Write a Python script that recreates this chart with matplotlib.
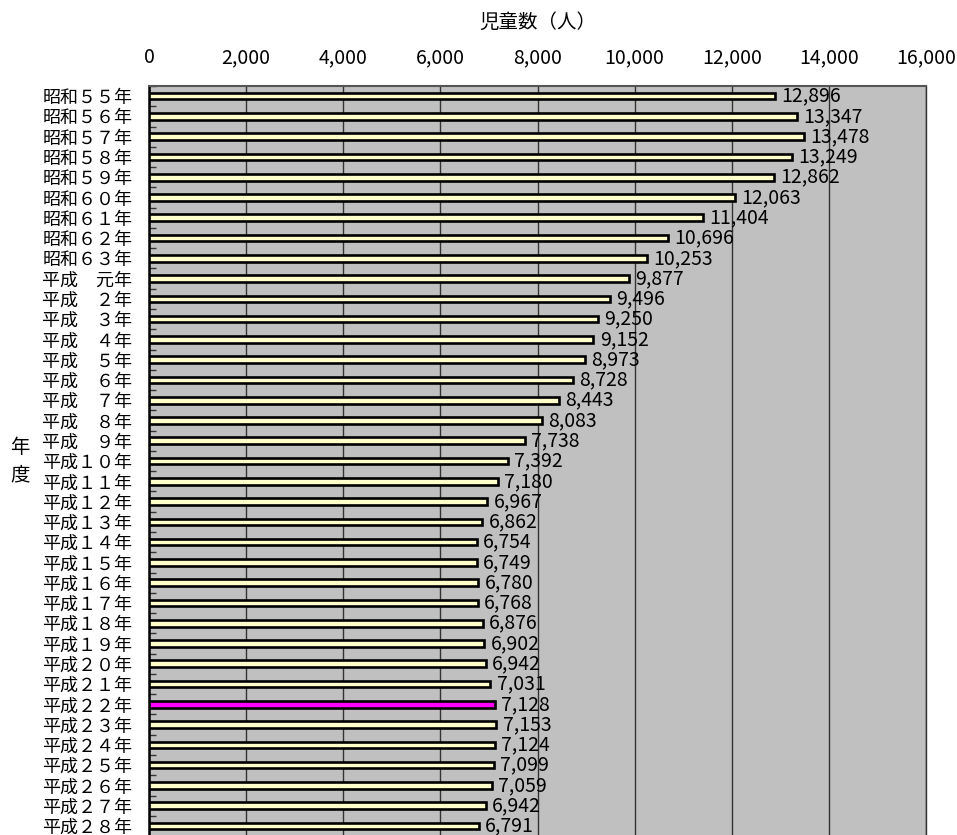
import matplotlib.pyplot as plt
import numpy as np

plt.rcParams['font.family'] = ['Noto Sans CJK JP', 'DejaVu Sans']

# 年度ごとの児童数
years = ['昭和５５年', '昭和５６年', '昭和５７年', '昭和５８年', '昭和５９年',
         '昭和６０年', '昭和６１年', '昭和６２年', '昭和６３年',
         '平成　元年', '平成　２年', '平成　３年', '平成　４年', '平成　５年',
         '平成　６年', '平成　７年', '平成　８年', '平成　９年', '平成１０年',
         '平成１１年', '平成１２年', '平成１３年', '平成１４年', '平成１５年',
         '平成１６年', '平成１７年', '平成１８年', '平成１９年', '平成２０年',
         '平成２１年', '平成２２年', '平成２３年', '平成２４年', '平成２５年',
         '平成２６年', '平成２７年', '平成２８年']
children = [12896, 13347, 13478, 13249, 12862, 12063, 11404, 10696, 10253,
            9877, 9496, 9250, 9152, 8973, 8728, 8443, 8083, 7738, 7392,
            7180, 6967, 6862, 6754, 6749, 6780, 6768, 6876, 6902, 6942,
            7031, 7128, 7153, 7124, 7099, 7059, 6942, 6791]
highlight = '平成２２年'
xticks = list(range(0, 16001, 2000))

fig = plt.figure(figsize=(9.57, 8.35), dpi=100)
ax = fig.add_axes([149/957, 1 - 836.1/835, 777/957, 750.1/835])
ax.set_facecolor('#c0c0c0')

y = np.arange(len(years))
colors = ['#ff00ff' if yr == highlight else '#ffffcc' for yr in years]
ax.barh(y, children, height=0.33, color=colors, edgecolor='black',
        linewidth=1.9, zorder=3)

for i, v in enumerate(children):
    ax.annotate(f'{v:,}', (v, i), xytext=(4.5, 0), textcoords='offset points',
                va='center', ha='left', fontsize=14, zorder=4)

ax.set_xlim(0, 16000)
ax.set_ylim(len(years) - 0.5, -0.5)

# 目盛りは上側
ax.xaxis.tick_top()
ax.xaxis.set_label_position('top')
ax.set_xticks(xticks)
ax.set_xticklabels([f'{v:,}' for v in xticks])
ax.tick_params(axis='x', length=0, pad=13, labelsize=14)
ax.set_xlabel('児童数（人）', fontsize=14, labelpad=14)

ax.set_yticks(y)
ax.set_yticklabels(years)
ax.tick_params(axis='y', which='major', length=0, pad=12, labelsize=13)
ax.set_yticks(np.arange(-0.5, len(years), 1), minor=True)
ax.tick_params(axis='y', which='minor', direction='in', length=5,
               width=1, color='#333333', left=True, right=False)

ax.xaxis.grid(True, color='#333333', linewidth=1)
ax.set_axisbelow(True)

ax.spines['left'].set_color('black')
ax.spines['left'].set_linewidth(1.8)
ax.spines['top'].set_color('#555555')
ax.spines['top'].set_linewidth(1.5)
ax.spines['right'].set_color('#333333')
ax.spines['right'].set_linewidth(1)
ax.spines['bottom'].set_visible(False)

fig.text(20/957, 1 - 461/835, '年\n度', ha='center', va='center',
         fontsize=14, linespacing=1.4)

fig.savefig('out.png', dpi=100)
